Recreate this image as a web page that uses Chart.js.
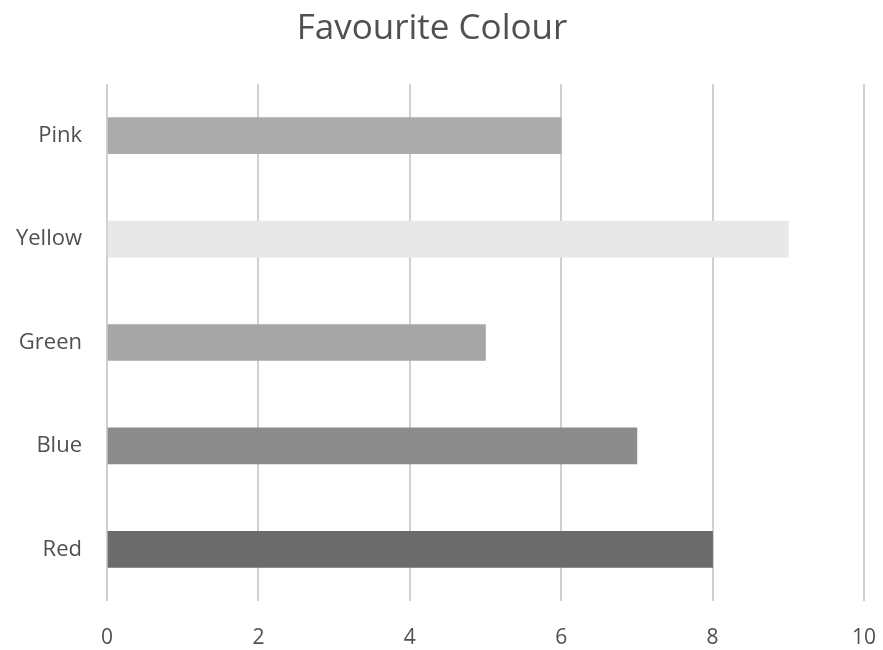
<!DOCTYPE html>
<html>
<head>
<meta charset="utf-8">
<script src="https://cdn.jsdelivr.net/npm/chart.js@4.4.1/dist/chart.umd.min.js"></script>
<style>
    html, body { margin: 0; padding: 0; background: #ffffff; }
    #wrap { width: 883px; height: 650px; }
</style>
</head>
<body>
<div id="wrap"><canvas id="colourChart" width="883" height="650"></canvas></div>
<script>
// data
const categories = ['Pink', 'Yellow', 'Green', 'Blue', 'Red'];
const votes = [6, 9, 5, 7, 8];
const barColours = ['#ababab', '#e8e8e8', '#a6a6a6', '#8c8c8c', '#6b6b6b'];
const xTicks = [0, 2, 4, 6, 8, 10];

const textColour = '#505050';
const fontFamily = '"Open Sans", "Liberation Sans", sans-serif';

const ctx = document.getElementById('colourChart');

new Chart(ctx, {
    type: 'bar',
    data: {
        labels: categories,
        datasets: [{
            label: 'Favourite Colour',
            data: votes,
            backgroundColor: barColours,
            borderWidth: 0,
            barThickness: 36
        }]
    },
    options: {
        indexAxis: 'y',
        responsive: false,
        animation: false,
        layout: {
            padding: { left: 0, right: 19, top: 0, bottom: 0 }
        },
        plugins: {
            legend: { display: false },
            tooltip: { enabled: false },
            title: {
                display: true,
                text: 'Favourite Colour',
                color: textColour,
                font: { family: fontFamily, size: 35, weight: 'normal' },
                padding: { top: 8, bottom: 34 }
            }
        },
        scales: {
            x: {
                min: xTicks[0],
                max: xTicks[xTicks.length - 1],
                afterBuildTicks: scale => {
                    scale.ticks = xTicks.map(v => ({ value: v }));
                },
                afterFit: scale => {
                    scale.height = 49;
                    // keep the last label from pushing the plot area in
                    scale.paddingRight = 0;
                    scale.paddingLeft = 0;
                },
                border: { display: false },
                grid: {
                    color: '#d0d0d0',
                    lineWidth: 2,
                    drawTicks: false
                },
                ticks: {
                    color: textColour,
                    padding: 24,
                    font: { family: fontFamily, size: 21 }
                }
            },
            y: {
                afterFit: scale => { scale.width = 107; },
                border: { display: false },
                grid: { display: false, drawTicks: false },
                ticks: {
                    color: textColour,
                    padding: 25,
                    font: { family: fontFamily, size: 22 }
                }
            }
        }
    }
});
</script>
</body>
</html>
